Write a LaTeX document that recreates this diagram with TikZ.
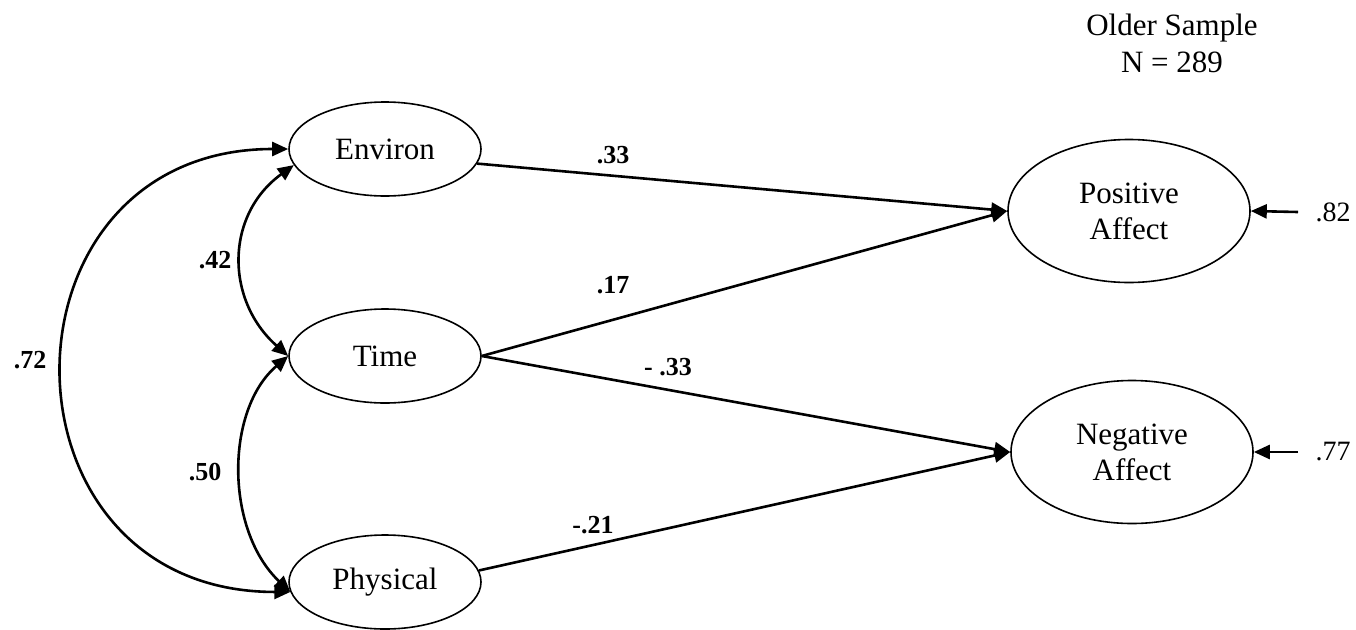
\documentclass[tikz,border=0pt]{standalone}
\usepackage{fontspec}
\setmainfont{Liberation Serif}
\usetikzlibrary{arrows.meta,shapes.geometric}
\begin{document}
\begin{tikzpicture}[x=1pt,y=-1pt,
  latent/.style={ellipse,draw,line width=1.6pt,inner sep=0pt,align=center,font=\fontsize{31}{36}\selectfont},
  latsmall/.style={latent,minimum width=192pt,minimum height=94pt},
  latbig/.style={latent,minimum width=242pt,minimum height=143pt},
  regpath/.style={line width=2.6pt,-{Triangle[length=16pt,width=14pt]}},
  covpath/.style={line width=2.6pt,{Triangle[length=16pt,width=14pt]}-{Triangle[length=16pt,width=14pt]}},
  coef/.style={font=\fontsize{26}{30}\selectfont\bfseries},
  resid/.style={font=\fontsize{28}{32}\selectfont}]
\useasboundingbox (0,0) rectangle (1356,629);

\node[latsmall] (env) at (385,149) {Environ};
\node[latsmall] (time) at (385,356) {Time};
\node[latsmall] (phy) at (385,582) {Physical};
\node[latbig] (pos) at (1129,211) {Positive\\Affect};
\node[latbig] (neg) at (1132,452) {Negative\\Affect};

\node[align=center,font=\fontsize{31}{37}\selectfont] (title) at (1172,43) {Older Sample\\N = 289};

% covariances
\draw[covpath] (env.west) .. controls (-12,149) and (-12,592) .. (phy.186);
\draw[covpath] (time.west) .. controls (225,300) and (225,215) .. (env.190);
\draw[covpath] (time.west) .. controls (225,410) and (225,530) .. (phy.186);

% regressions
\draw[regpath] (env.-9) -- (pos.west);
\draw[regpath] (time.east) -- (pos.west);
\draw[regpath] (time.east) -- (neg.west);
\draw[regpath] (phy.7) -- (neg.west);

% residuals
\coordinate (e1) at (1298,212);
\coordinate (e2) at (1298,452);
\draw[regpath] (e1) -- (pos.east);
\draw[regpath] (e2) -- (neg.east);
\node[resid] (r1) at (1333,212) {.82};
\node[resid] (r2) at (1333,452) {.77};

% coefficients
\node[coef] (c1) at (613,155) {.33};
\node[coef] (c2) at (613,285) {.17};
\node[coef] (c3) at (668,367) {- .33};
\node[coef] (c4) at (593,525) {-.21};
\node[coef] (c5) at (215,260) {.42};
\node[coef] (c6) at (205,472) {.50};
\node[coef] (c7) at (30,360) {.72};
\end{tikzpicture}
\end{document}
